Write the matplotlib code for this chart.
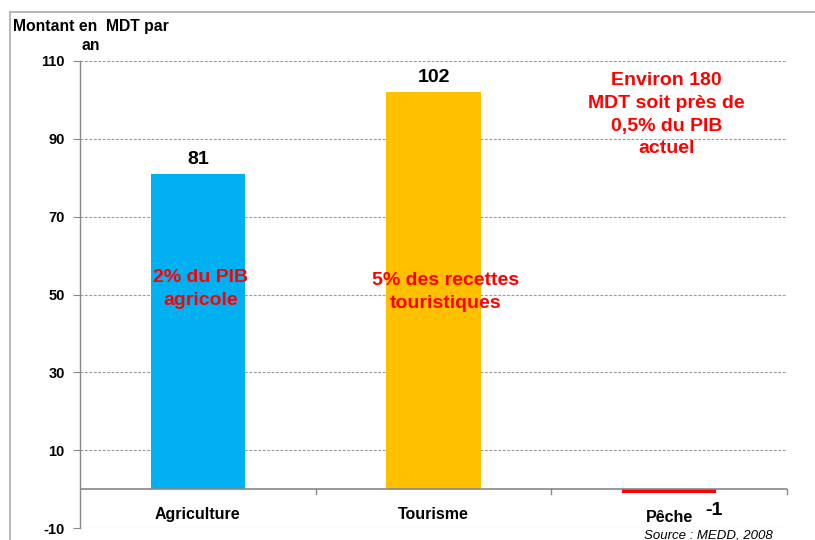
import matplotlib
matplotlib.use("Agg")
import matplotlib.pyplot as plt
from matplotlib.lines import Line2D

plt.rcParams['font.family'] = ['Liberation Sans', 'DejaVu Sans']

categories = ["Agriculture", "Tourisme", "Pêche"]
values = [81, 102, -1]
bar_colors = ["#00B0F0", "#FFC000", "#FF0000"]
notes = ["2% du PIB\nagricole", "5% des recettes\ntouristiques",
         "Environ 180\nMDT soit près de\n0,5% du PIB\nactuel"]
yticks = [110, 90, 70, 50, 30, 10, -10]

fig = plt.figure(figsize=(8.15, 5.40), dpi=100)
ax = fig.add_axes([80 / 815, 1 - 528 / 540, 707 / 815, 467 / 540])

x = list(range(len(categories)))
ax.bar(x, values, width=0.40, color=bar_colors, zorder=3)

ax.set_xlim(-0.5, 2.5)
ax.set_ylim(-10, 110)
ax.set_yticks(yticks)
ax.set_yticklabels([str(v) for v in yticks], fontsize=10.5, fontweight='bold')
ax.tick_params(axis='y', length=5, color='#888888', pad=6)
ax.set_xticks([])

for g in yticks:
    ax.axhline(g, color='#999999', linestyle=(0, (2.5, 1.5)), linewidth=0.8, zorder=1)

for s in ['top', 'right', 'bottom']:
    ax.spines[s].set_visible(False)
ax.spines['left'].set_color('#888888')
ax.spines['left'].set_linewidth(1.0)

# zero baseline with category separator ticks
ax.axhline(0, color='#888888', linewidth=1.2, zorder=4)
for b in [0.5, 1.5, 2.5]:
    ax.plot([b, b], [0, -1.3], color='#888888', linewidth=1.0, clip_on=False, zorder=4)

# category labels
label_y = [-6.6, -6.6, -7.2]
for xi, c, ly in zip(x, categories, label_y):
    ax.text(xi, ly, c, ha='center', va='center', fontsize=11.5, fontweight='bold')

# value labels above bars
ax.text(0, values[0] + 1.5, str(values[0]), ha='center', va='bottom', fontsize=14, fontweight='bold')
ax.text(1, values[1] + 1.5, str(values[1]), ha='center', va='bottom', fontsize=14, fontweight='bold')
ax.text(2.19, -5.6, str(values[2]), ha='center', va='center', fontsize=14, fontweight='bold')

# notes in red
note_pos = [(0.01, 51.4), (1.05, 50.7), (1.99, 96.2)]
for (nx, ny), t in zip(note_pos, notes):
    ax.text(nx, ny, t, ha='center', va='center', fontsize=14, fontweight='bold',
            color='#FF0000', linespacing=1.45, zorder=5)

# axis title
fig.text(13 / 815, 1 - 27 / 540, "Montant en  MDT par", fontsize=11.3, fontweight='bold',
         ha='left', va='center')
fig.text(91 / 815, 1 - 45 / 540, "an", fontsize=11.3, fontweight='bold', ha='center', va='center')

# source note
fig.text(708 / 815, 1 - 535 / 540, "Source : MEDD, 2008", fontsize=9.5, fontstyle='italic',
         ha='center', va='center')

# outer frame
fig.add_artist(Line2D([10 / 815, 1.0], [1 - 12 / 540, 1 - 12 / 540], color='#AAAAAA', linewidth=1.2))
fig.add_artist(Line2D([10 / 815, 10 / 815], [0, 1 - 12 / 540], color='#AAAAAA', linewidth=1.2))

fig.savefig("out.png", dpi=100, facecolor='white')
